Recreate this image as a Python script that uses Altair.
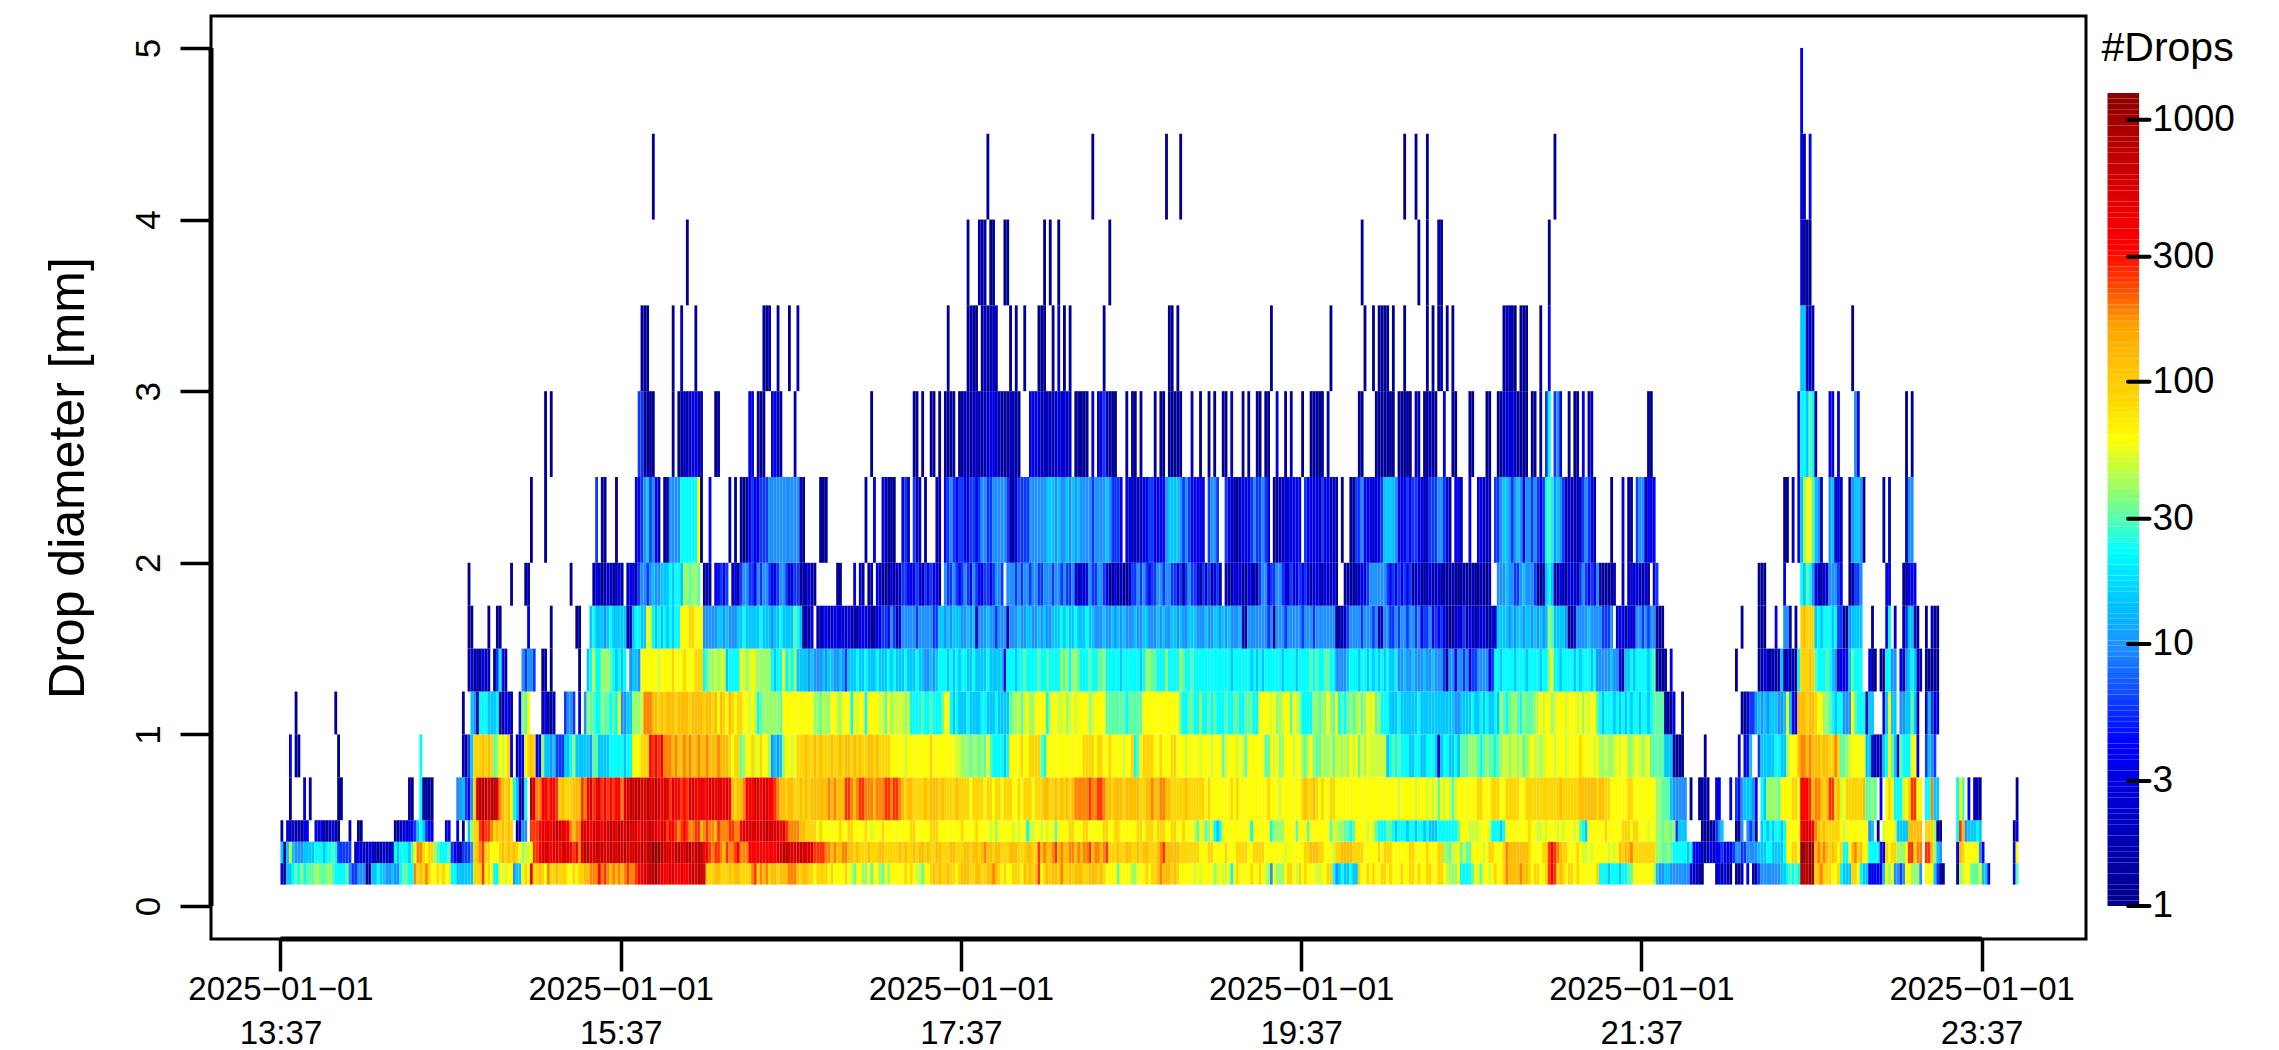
import altair as alt
import pandas as pd
import math

alt.data_transformers.disable_max_rows()

# one letter = one estimated drop count; one character = one minute after 13:37
LEVEL_COUNTS = dict(a=1.2, b=2, c=3.5, d=6, e=10, f=15, g=23, h=32, i=40, j=50, k=62,
                    l=90, m=125, n=190, o=260, p=350, q=550, r=800, s=1150)

D_450_500 = [(536, "c")]
D_400_450 = [(131, "a"), (249, "a"), (286, "a"), (312, "a"), (317, "a"), (396, "a"), (400, "a"),
             (404, "a"), (449, "a"), (536, "cb"), (539, "c")]
D_350_400 = [(143, "a"), (242, "a"), (246, "bab"), (250, "aa"), (255, "aa"), (269, "a"), (271, "a"),
             (274, "a"), (292, "a"), (381, "a"), (401, "a"), (404, "a"), (408, "ba"), (447, "a"),
             (536, "caaa")]
D_300_350 = [(127, "aaa"), (138, "a"), (141, "b"), (146, "a"), (170, "aab"), (175, "a"), (179, "a"),
             (182, "b"), (235, "a"), (242, "abaa"), (247, "abbabb"), (257, "a"), (259, "a"), (262, "a"),
             (267, "aaa"), (272, "a"), (274, "c"), (276, "a"), (278, "a"), (290, "a"), (313, "aa"),
             (316, "a"), (349, "a"), (370, "a"), (382, "a"), (385, "a"), (387, "aaaa"), (392, "a"),
             (396, "a"), (404, "a"), (406, "a"), (408, "ab"), (411, "a"), (413, "a"), (431, "abbaa"),
             (437, "aaa"), (444, "a"), (447, "c"), (536, "ffbbb"), (554, "a")]
D_250_300 = [(93, "a"), (95, "a"), (126, "ddaaaa"), (138, "a"), (140, "aabbbccbb"), (153, "aa"),
             (165, "cc"), (168, "aaa"), (173, "ccba"), (181, "b"), (208, "a"), (223, "aa"), (226, "a"),
             (229, "aa"), (232, "a"), (234, "aaaa"), (239, "aabbabbbabbccbbaaabbaa"),
             (264, "cccbbbbbbbcbcbb"), (280, "aaaaa"), (286, "c"), (288, "bcdbaaa"), (298, "a"),
             (300, "aa"), (303, "a"), (308, "a"), (310, "aa"), (313, "aaaaa"), (321, "b"), (324, "a"),
             (327, "a"), (329, "a"), (332, "aa"), (335, "b"), (339, "a"), (341, "a"), (344, "aa"),
             (347, "aa"), (351, "c"), (354, "a"), (356, "b"), (360, "a"), (363, "aaaaa"), (369, "b"),
             (380, "aa"), (386, "aaaaaaa"), (394, "aaaaa"), (400, "bb"), (403, "aabaa"), (410, "c"),
             (413, "aa"), (419, "aa"), (425, "aa"), (429, "aabcbcbaaaa"), (441, "aa"), (444, "a"),
             (446, "dg"), (449, "dec"), (454, "a"), (456, "aa"), (459, "c"), (461, "bb"), (482, "aa"),
             (535, "cggfhga"), (546, "cc"), (549, "c"), (555, "ec"), (573, "a"), (575, "a")]
D_200_250 = [(88, "a"), (93, "a"), (111, "d"), (113, "aa"), (118, "a"),
             (125, "ccdefdecb"), (135, "aaeeeeggggggka"), (151, "c"), (158, "a"), (160, "a"),
             (162, "aaacdccdddeeeeeeeeeee"), (183, "ba"), (190, "aaa"), (206, "a"),
             (209, "c"), (212, "cbaaa"), (219, "cdb"), (223, "dbb"), (227, "a"), (231, "bb"),
             (234, "cdedcddccddcdeeddeeeeeda"), (257, "bacdd"),
             (262, "ddeeeeeefffefeefefefeeeedeeeefedddc"), (298, "ccbbbbcc"), (306, "ddcccc"),
             (312, "effffede"), (320, "dccccc"), (327, "deed"),
             (333, "dcbbabcccdedd"), (346, "edc"), (350, "aabbbccccc"), (361, "dccccbdccbbb"),
             (374, "a"), (377, "aadde"), (382, "cccbccdffffeccc"), (397, "dcdd"), (401, "cc"),
             (403, "bbddd"), (408, "eedca"), (414, "ccb"), (419, "c"), (422, "ccbbb"),
             (428, "ddeffedefecee"), (441, "ded"), (444, "cd"), (446, "ghgef"), (451, "edbbb"),
             (456, "bbbdedcb"), (469, "a"), (473, "c"), (475, "aa"), (478, "deebccc"), (530, "aa"),
             (533, "b"), (535, "cfikkhfeb"), (546, "efbcb"), (553, "aeffea"), (565, "a"), (567, "b"),
             (573, "bee")]
D_175_200 = [(66, "a"), (81, "a"), (86, "ab"), (102, "a"), (110, "acbaacbabca"), (122, "bcca"),
             (126, "deedefeeff"), (136, "fgfggf"), (142, "iihiih"), (149, "aba"), (153, "ccdcd"),
             (159, "bca"), (162, "deeddcedeedccdeedbcdd"), (183, "abacaa"), (196, "aa"), (202, "c"),
             (204, "ca"), (207, "ab"), (210, "cbaaacabb"), (219, "ddcccdcadcdcca"),
             (234, "eddedcdedcedccddcdeed"), (256, "eeededeedeeddeeedeededde"), (280, "cacbc"),
             (285, "eddeedc"), (292, "aacabaab"), (300, "ddededcddeedeeddcd"), (318, "a"),
             (319, "deddcadbdacdb"), (333, "baacbcaacbba"), (345, "deecddeedc"), (355, "bdccd"),
             (360, "cdcacbcacbbca"), (375, "abaabb"), (381, "ccd"), (384, "eeeeeed"),
             (391, "cdcdcdcd"), (399, "abcabacbacab"), (411, "aabaaaba"), (419, "abaabaab"),
             (429, "eeefeeddefeeed"), (443, "aab"), (446, "fgf"), (449, "bacbacbca"), (458, "dedcdce"),
             (465, "aaaaab"), (473, "b"), (475, "bcbcbaca"), (484, "cd"), (521, "aaa"), (530, "c"),
             (536, "gfhge"), (541, "cbacbe"), (547, "eed"), (550, "c"), (553, "aa"), (555, "dde"),
             (566, "cc"), (572, "aaccc")]
D_150_175 = [(66, "aa"), (73, "a"), (76, "aa"), (87, "c"), (95, "a"), (104, "aa"), (109, "fgfffefg"),
             (117, "fffff"), (122, "ab"), (124, "fggff"), (129, "kjg"), (132, "fgfgfgfgg"),
             (141, "kkkllkkk"), (149, "eeeeeffefeeef"), (162, "fgfffffgfffeffgffff"), (181, "hgf"),
             (184, "abac"), (189, "baccbbccbcbca"), (202, "bacccbaa"), (210, "ccddcedac"),
             (219, "eeeeedeeeeedd"), (232, "ffefefffeefef"), (245, "b"), (246, "eeefeedeee"), (256, "a"),
             (257, "eeefeeffeefefeefff"), (275, "gfgffgfffgffe"), (288, "eefeefefefeeefeeffeeefefee"),
             (314, "ffefeefffeeefeeffefefeeef"), (339, "ba"), (341, "eeeeeeede"), (350, "a"),
             (351, "eeedeeeee"), (360, "deeedeeeeeee"), (372, "aabb"), (376, "deeeedeeede"), (387, "ab"),
             (389, "eeddedeedeede"), (402, "cddecdcdc"), (411, "aaab"), (415, "cbdacbacbcaacb"),
             (429, "ffffefeffeffefefef"), (447, "ih"), (449, "ffffe"), (454, "aac"),
             (457, "eeeefeeeeddde"), (471, "bccacbc"), (478, "eededee"), (485, "aaa"), (515, "a"),
             (521, "aaa"), (527, "c"), (530, "ee"), (532, "a"), (534, "a"), (536, "lmlll"),
             (541, "fgfgg"), (546, "gfgd"), (550, "daaefff"), (557, "f"), (561, "a"), (566, "cg"),
             (569, "b"), (572, "adffba"), (580, "a"), (582, "baa")]
D_125_150 = [(66, "acabacbb"), (75, "adgca"), (85, "edeed"), (92, "ab"), (95, "a"), (105, "a"),
             (108, "fgjgg"), (113, "iiih"), (117, "gfgfg"), (123, "effe"),
             (127, "kkkkkkjkkkklkkklkkklll"), (149, "gh"), (151, "iijijj"), (157, "fgggg"),
             (162, "kjijkj"), (168, "iiiii"), (173, "gfggkg"), (179, "hgi"), (182, "ffffef"),
             (188, "eeefeffeefe"), (199, "d"), (200, "fffgffgfffgfffgfgfffgfffgffeefef"),
             (232, "gggfgfgfggffgffffgfffff"), (255, "c"), (256, "gggfgghggggh"),
             (268, "gghggggihigiihggghgghhi"), (291, "gggggfggggggfg"), (305, "iihhgggiggggihgghgggg"),
             (326, "gggggggggfggggggfgfgfggggggfggggfg"), (360, "ggghghgghhgg"), (372, "eeeef"),
             (377, "gggfggfgfgfgfgffg"), (394, "eefeefeeefeefeee"), (410, "dae"), (413, "eceedecdd"),
             (422, "eeeecd"), (428, "ggfggggfgggfggggfgg"), (447, "ik"), (449, "ggfggggfgfgggfg"),
             (464, "eeeeefeec"), (473, "a"), (474, "ffgfggggfgh"), (485, "aaaa"), (490, "c"), (513, "a"),
             (521, "aacbabab"), (529, "f"), (530, "acaba"), (535, "g"), (536, "lllml"), (541, "hgg"),
             (544, "ghgfeb"), (550, "cccfhggg"), (560, "caa"), (564, "aaggee"), (571, "cbefgfbb"),
             (580, "aaaaa")]
D_100_125 = [(5, "a"), (19, "a"), (64, "a"), (67, "fe"), (69, "a"), (70, "gggff"), (75, "f"), (76, "g"),
             (77, "aacca"), (84, "cihk"), (92, "bcaab"), (100, "deed"), (105, "c"), (107, "e"),
             (108, "ihhggihhghgh"), (119, "k"), (120, "eeff"), (124, "iiijn"),
             (129, "nnmmlmlmmmlmmmmlmmmmlmmlmkmlkmlkl"), (162, "lkkjkj"), (168, "gh"), (170, "iiiiiih"),
             (177, "kkkkkkkkkkk"), (188, "iih"), (191, "jiikkjikk"), (200, "kgkjkkgk"),
             (208, "kkkjjhkijjjjij"), (222, "gggghgghgggh"), (234, "kk"), (236, "gfgfffgffffggfffgffff"),
             (257, "hiijhjkiik"), (267, "kkkg"), (271, "jkkjjkijkjkkkkijkkkk"), (291, "hhhhhhhghhhhh"),
             (304, "kkkkkkkkkkkkk"), (317, "hgghhggigghgh"), (330, "ggghgghhgghhhgg"),
             (345, "kkkkjkiijkkhkji"), (360, "gggg"), (364, "iihii"), (369, "kihk"), (373, "ghgh"),
             (377, "ihijhikjkhi"), (388, "gggf"), (392, "ffgffffffgffff"), (406, "ffffffffeefff"),
             (419, "fgffgfgffgf"), (430, "ihghiihgih"), (440, "hhi"), (443, "jkjkkijkkkjkkkjki"),
             (460, "kjkkh"), (465, "gfgggfgfgfgfggfggfghh"), (486, "hh"), (488, "aaa"), (491, "c"),
             (494, "a"), (515, "aab"), (518, "dde"), (521, "fefefffeef"), (531, "k"), (532, "f"),
             (533, "cc"), (535, "mmmlmm"), (541, "lkk"), (544, "iih"), (547, "gfg"),
             (550, "geeekhgggbff"), (565, "cfkff"), (571, "eeffhfb"), (580, "cfdbc")]
D_075_100 = [(3, "c"), (5, "aa"), (20, "a"), (49, "g"), (64, "ba"), (66, "d"), (67, "f"), (68, "lllmlml"),
             (75, "hi"), (77, "kjkl"), (81, "c"), (83, "ac"), (85, "c"), (86, "k"), (87, "lml"),
             (90, "cc"), (92, "i"), (93, "ffef"), (97, "ddd"), (100, "ffg"), (103, "i"),
             (104, "fffffe"), (110, "hh"), (112, "ffff"), (116, "gggggfgg"), (124, "kkk"), (127, "lll"),
             (130, "popop"), (135, "nnnmnmmnm"), (144, "nmmnmmnmmmnmmmlkll"), (162, "hikkljklkki"),
             (173, "efe"), (176, "fi"), (178, "kkjk"), (182, "lllmllmlmlllmllmlmmlmlmllmmlmllll"),
             (215, "kkkkkjkkkkkkkklkkkkkkkk"), (238, "jji"), (241, "iihiihih"), (249, "k"),
             (250, "hggggfg"), (257, "kkkklkkllll"), (268, "hg"), (270, "kkkkkkkkkkkkkl"),
             (284, "lllkllkklkkkkjkkl"), (301, "gh"), (303, "kllllkklkkkllkkkjk"),
             (321, "kkkjkkkjkkkhjkkkjkjhkkk"), (344, "kkkhhkjkiikkkjkk"),
             (360, "ihjkihhjiijhjjijikjkhkik"), (384, "jjjjjj"), (390, "fg"), (392, "hghgg"),
             (397, "gffggffgg"), (406, "gf"), (408, "b"), (409, "fggffgf"), (416, "hhhii"),
             (421, "ihghihhgh"), (430, "ijjijjij"), (438, "hijkjjijkk"), (448, "kjkkkj"),
             (454, "kkkklkkkkjk"), (465, "iijiijk"), (472, "jkkiijkjijk"), (483, "hhhhh"), (488, "fff"),
             (491, "aaaa"), (502, "a"), (514, "c"), (516, "cc"), (518, "f"), (521, "df"),
             (523, "ffffggff"), (531, "ikkk"), (535, "mnnmnm"), (541, "mmlmmll"), (548, "nl"),
             (550, "hhijkkkkkffbbbb"), (565, "fgkhf"), (570, "bhgggkkc"), (580, "dfed")]
D_050_075 = [(3, "a"), (8, "c"), (10, "a"), (20, "aa"), (45, "aa"), (49, "g"), (50, "aaaa"), (62, "ee"),
             (64, "fd"), (66, "ce"), (68, "l"), (69, "qrrrqrrq"), (77, "nml"), (80, "mk"), (82, "gf"),
             (84, "ba"), (86, "g"), (88, "rq"), (90, "nn"), (92, "ppoppo"), (98, "lmlllmmm"), (106, "on"),
             (108, "pqopqopopoppn"), (121, "qqrqrrqqr"), (130, "qqrqpqqoqppopoqqppqppqqpqqpqp"),
             (159, "mlm"), (162, "mn"), (164, "pppqqpqqpp"), (174, "onm"), (177, "mlmmllmlmlm"),
             (188, "mmmmmnmnmmm"), (199, "oo"), (201, "nmn"), (204, "oo"), (206, "nnnmnnn"),
             (213, "oonoo"), (218, "nmlmmllllmlmmmlmllllml"), (240, "lllkllllkllkllklllkklk"),
             (262, "lllklllmmllmlmlmlm"), (280, "nnn"), (283, "nnonnoon"), (291, "mmlmmmlmmmmmll"),
             (305, "mmnmmnn"), (312, "mmlllllmllllll"), (326, "klkkkkkkklklkkkkkkkkkklkkkjkkkkkkk"),
             (360, "lmllmlklkkll"), (372, "kkkkkkkkkkkkkkkkkkkkkkjkkkkkjkkkjk"), (406, "jkhkjkjhjkkk"),
             (418, "kkkkllkkklllkk"), (432, "lllllkkllllllllllllmllllll"), (458, "mmmmmmlmm"),
             (467, "llkkkkkkllkkkkkkkk"), (485, "iihhh"), (490, "feeeee"), (497, "a"), (500, "aaba"),
             (506, "cc"), (511, "c"), (513, "dce"), (516, "fffe"), (520, "c"), (522, "gf"),
             (524, "iiiih"), (529, "kkkkllk"), (536, "pppo"), (540, "mnnmlm"), (546, "oo"), (548, "lm"),
             (550, "jkllllllmh"), (560, "hih"), (564, "c"), (566, "klkggg"), (572, "jklookk"),
             (580, "ggnff"), (591, "gkh"), (595, "c"), (597, "bba"), (612, "a")]
D_0375_050 = [(0, "a"), (2, "cacabac"), (9, "c"), (12, "cbca"), (16, "abcaa"), (24, "a"), (27, "aa"),
              (40, "aabcbccd"), (48, "fgf"), (51, "dcc"), (58, "cc"), (62, "c"), (64, "a"), (66, "fi"),
              (68, "ll"), (70, "opoon"), (75, "lmlmlml"), (83, "ab"), (85, "ee"), (88, "o"),
              (89, "oopqpqp"), (96, "qrqq"), (100, "ppnm"), (104, "nn"),
              (106, "qqqpqqqpqqrqqrqqrqqqpqqqr"), (131, "qqpqqopponop"),
              (143, "onnoomnonnmonnnoonn"), (162, "pqqqqqqqqrqqqqpqo"), (179, "nnn"), (182, "nmml"),
              (186, "lllklkkkk"), (195, "kklkkllkkkklkjkkklkk"), (215, "kkkkkkkllkkkkklllkkk"),
              (235, "kkkkklkkkklkkkkjkikk"), (255, "kkkjkjkkgjjkkjkjkkhk"),
              (275, "kkkllkkkllkkkkkllkkl"), (295, "lkkkkkkllklllklllkkllkklkk"), (321, "kjhkjhikg"),
              (330, "fgk"), (333, "kkkkkkkkk"), (342, "g"), (343, "kkkkkk"), (349, "g"), (350, "iiii"),
              (354, "kkkk"), (358, "hk"), (360, "kkhkkkkkkkhjj"), (373, "iihhgh"), (379, "kkkkjkjh"),
              (387, "ggg"), (390, "hhgfg"), (395, "ggfggfggfg"), (405, "fff"), (408, "ggggggg"),
              (415, "hkkk"), (419, "jjjj"), (423, "kkkj"), (427, "gggfg"), (432, "kkkkkkkklkk"),
              (443, "jjkjkk"), (449, "kjkjkkkjkh"), (459, "gf"), (461, "kkkkkklkkkkklllkllkkkjkk"),
              (485, "iihiihi"), (492, "d"), (493, "fff"), (501, "aaaaa"), (506, "def"), (513, "aa"),
              (515, "e"), (517, "ede"), (520, "a"), (522, "fgfgfggfg"), (531, "kkkkk"), (536, "pqqqp"),
              (541, "nmlmll"), (547, "lll"), (550, "kjkkkkkkkk"), (560, "ef"), (563, "a"),
              (565, "jkkkj"), (570, "ffff"), (574, "mmmmm"), (580, "lllia"), (585, "a"),
              (591, "gomefffgf"), (611, "ac")]
D_025_0375 = [(0, "fafjfeeeff"), (10, "ffgggfgghg"), (20, "ddddd"), (26, "bcbca"), (31, "cbbaacbbb"),
              (40, "gfgggfhk"), (48, "nnlkll"), (54, "ihgggh"), (60, "dccaddd"), (67, "ee"),
              (68, "lmnollkkklmlmlmlkijjkp"), (89, "oopqqqpqqpq"), (100, "qqpopn"),
              (106, "qrrqqrqrqqrqqrq"), (121, "rqqqrqrqrr"), (131, "sss"), (134, "rqqqqrrqq"),
              (143, "rrqrrr"), (149, "pponoonmonnop"), (162, "nnnpppppppppp"), (175, "qqrrqqqqrqqqq"),
              (188, "oooonnmnmmnn"), (200, "mmlmlllmlllmmlllllml"), (220, "mllmlmmlmllmmlllmmll"),
              (240, "lmmlmmlmnmmlmmlllmmm"), (260, "lllmmll"), (267, "o"), (268, "mnmmnomnmmnn"),
              (280, "mnmnnomnnmno"), (292, "lllmllmmllmlmmlllmno"), (312, "mmmmmllll"),
              (321, "lllkkkllkkkklkkkllll"), (341, "kkllllkkkkkkkjkkkkk"),
              (360, "kllmmmllkkkjllmmmmllllkkkkklklllkkkkkkllkkkklkkkll"), (410, "iihjjkhjhh"),
              (420, "kkkkjkllkkkl"), (432, "nmmmmmmml"), (441, "kkkkll"), (447, "opo"),
              (450, "nmllkkkl"), (458, "kjjkjkk"), (465, "kkkjkjk"), (472, "mlmmn"), (477, "llllllll"),
              (485, "iihhih"), (491, "gggggfg"), (498, "cccb"), (502, "abcb"), (506, "ccdcccd"),
              (513, "eeddeeee"), (521, "fffggffffg"), (531, "kkllk"), (536, "ssrss"),
              (541, "mnmnmlmlk"), (550, "lggkmnlmkk"), (560, "gggg"), (564, "cc"), (566, "lkll"),
              (570, "iiikoolnn"), (580, "oomife"), (591, "cmlkkkkkec"), (611, "ck")]
D_0125_025 = [(0, "caffghgigh"), (10, "hhiihhiihg"), (20, "gggheddeee"), (30, "aaffgffeef"),
              (40, "eeghhgg"), (47, "nlm"), (50, "lnlkklklkk"), (60, "ggffffffll"),
              (70, "loklkggkkj"), (80, "kkeffklkql"), (90, "lmlknllmll"), (100, "lkklkllmmn"),
              (110, "nnpnonmnmn"), (120, "mnonnoppqq"), (130, "rrsqqppqqp"), (140, "pqppqrqrrq"),
              (150, "lllmmlllmlmm"), (162, "llllnolnmnlmmlmmmn"), (180, "nnmlmmllkllllklkkkkl"),
              (200, "kjhkkiikhkkihkikkkkk"), (220, "lklkjjhkklmlmllmllkl"),
              (240, "mmmllmmllmmnmlklkkll"), (260, "lkmlmlmoklmlmmlnllml"),
              (280, "mmmllmmmlmlkkkkhkkkk"), (300, "iikkklkllmnmmmlmlkkk"),
              (320, "kkjkjkkkkijkjjkgklkk"), (340, "kklkklkjiekiiikllkjl"),
              (360, "klkkkjjkkllgefgffgff"), (380, "lkklklkkllklkkklkkllklkkll"),
              (406, "kkllkjiiikgggg"), (420, "hkjhkkjklkkl"), (432, "nmmmmnmmlkllkkl"), (447, "opo"),
              (450, "lmlkllklkkkkkkl"), (465, "gggfgggfgghh"), (477, "kkkkkkkj"),
              (485, "feeffeeeeeee"), (497, "cbbaa"), (506, "bcacaa"), (513, "aab"), (517, "c"),
              (519, "ba"), (521, "deeeeeeeff"), (531, "ghghg"), (536, "rrrss"), (541, "lmnlllkkl"),
              (550, "gfffllkgffcccc"), (564, "cfkikeede"), (573, "kkiiie"), (580, "kkkfdaa"),
              (591, "a"), (592, "ijkkhhhkffc"), (611, "ch")]

ROWS = [(0.125, 0.25, D_0125_025), (0.25, 0.375, D_025_0375), (0.375, 0.5, D_0375_050),
        (0.5, 0.75, D_050_075), (0.75, 1.0, D_075_100), (1.0, 1.25, D_100_125), (1.25, 1.5, D_125_150),
        (1.5, 1.75, D_150_175), (1.75, 2.0, D_175_200), (2.0, 2.5, D_200_250), (2.5, 3.0, D_250_300),
        (3.0, 3.5, D_300_350), (3.5, 4.0, D_350_400), (4.0, 4.5, D_400_450), (4.5, 5.0, D_450_500)]

START = pd.Timestamp("2025-01-01 13:37:00")
records = []
for lo, hi, segments in ROWS:
    cells = {}
    for first, letters in segments:
        for offset, letter in enumerate(letters):
            cells[first + offset] = letter
    for minute, letter in cells.items():
        records.append(dict(
            t0=(START + pd.Timedelta(minutes=minute)).isoformat(),
            t1=(START + pd.Timedelta(minutes=minute + 1)).isoformat(),
            lo=lo, hi=hi, drops=LEVEL_COUNTS[letter]))
cells_df = pd.DataFrame(records)

X_TICKS = ["2025-01-01T13:37:00", "2025-01-01T15:37:00", "2025-01-01T17:37:00",
           "2025-01-01T19:37:00", "2025-01-01T21:37:00", "2025-01-01T23:37:00"]
X_DOMAIN = ["2025-01-01T13:12:30", "2025-01-02T00:13:48"]
Y_TICKS = [0, 1, 2, 3, 4, 5]
Y_DOMAIN = [-0.192, 5.186]
BAR_TICKS = [1, 3, 10, 30, 100, 300, 1000]
BAR_TOP = 1265

COLOR_DOMAIN = [1, 1.82, 4.37, 10, 14.06, 23.2, 36.3, 61.7, 87.7, 167.5, 238.8, 331, 430.5, 776, 1265]
COLOR_RANGE = ["#00008B", "#0000B4", "#0000FF", "#1E90FF", "#00BFFF", "#00FFFF", "#7FFF7F", "#FFFF00",
               "#FFD700", "#FFA500", "#FF4500", "#FF0000", "#EE0000", "#BE0000", "#8B0000"]
color_scale = alt.Scale(type="log", domain=COLOR_DOMAIN, range=COLOR_RANGE, interpolate="rgb")

FONT = "Liberation Sans"
x_scale = alt.Scale(domain=X_DOMAIN)
y_scale = alt.Scale(domain=Y_DOMAIN, nice=False, zero=False)

x_axis = alt.Axis(
    title=None, values=X_TICKS, domain=False, grid=False, tickSize=32, tickWidth=3.5, tickColor="black",
    labelFontSize=33, labelFont=FONT, labelColor="black", labelPadding=2, labelLineHeight=44,
    labelOverlap=False, labelFlush=False, labelBaseline="top", labelLimit=400,
    labelExpr="[timeFormat(datum.value,'%Y\u2212%m\u2212%d'), timeFormat(datum.value,'%H:%M')]")
y_axis = alt.Axis(
    title="Drop diameter [mm]", values=Y_TICKS, domain=False, grid=False, tickSize=31, tickWidth=3.5,
    tickColor="black", labelFontSize=35, labelFont=FONT, labelColor="black", labelAngle=-90,
    labelAlign="center", labelBaseline="bottom", labelPadding=14, titleFontSize=50, titleFont=FONT,
    titleFontWeight="normal", titleColor="black", titlePadding=38, format="d")

rects = alt.Chart(cells_df).mark_rect(strokeWidth=0).encode(
    x=alt.X("t0:T", scale=x_scale, axis=x_axis),
    x2="t1:T",
    y=alt.Y("lo:Q", scale=y_scale, axis=y_axis),
    y2="hi:Q",
    color=alt.Color("drops:Q", scale=color_scale, legend=None),
)

x_line = alt.Chart(pd.DataFrame(dict(a=[X_TICKS[0]], b=[X_TICKS[-1]], c=[Y_DOMAIN[0]]))).mark_rule(
    color="black", strokeWidth=5).encode(
    x=alt.X("a:T", scale=x_scale, axis=x_axis), x2="b:T", y=alt.Y("c:Q", scale=y_scale, axis=y_axis))
y_line = alt.Chart(pd.DataFrame(dict(a=[X_DOMAIN[0]], b=[Y_TICKS[0]], c=[Y_TICKS[-1]]))).mark_rule(
    color="black", strokeWidth=5).encode(
    x=alt.X("a:T", scale=x_scale, axis=x_axis), y=alt.Y("b:Q", scale=y_scale, axis=y_axis), y2="c:Q")

main = alt.layer(rects, x_line, y_line).properties(
    width=1875, height=923, view=alt.ViewConfig(stroke="black", strokeWidth=3))

# colour bar: its vertical axis is log10(#Drops)
BAR_STEPS = 150
bar_logs = [math.log10(BAR_TOP) * i / BAR_STEPS for i in range(BAR_STEPS + 1)]
bar_df = pd.DataFrame(dict(lo=bar_logs[:-1], hi=bar_logs[1:], drops=[10 ** v for v in bar_logs[1:]]))
log_scale = alt.Scale(domain=[-0.126, 3.396], nice=False, zero=False)
x01 = alt.Scale(domain=[0, 1], nice=False, zero=False)

bar_axis = alt.Axis(
    title=None, orient="right", values=[math.log10(v) for v in BAR_TICKS], domain=False, grid=False,
    ticks=False, labelFontSize=37, labelFont=FONT, labelColor="black", labelPadding=13,
    labelExpr="format(pow(10,datum.value),'.0f')", labelOverlap=False, labelFlush=False)

bar = alt.Chart(bar_df).mark_rect(strokeWidth=0).encode(
    x=alt.value(0), x2=alt.value(31.6),
    y=alt.Y("lo:Q", scale=log_scale, axis=bar_axis),
    y2="hi:Q",
    color=alt.Color("drops:Q", scale=color_scale, legend=None),
)
bar_ticks = alt.Chart(pd.DataFrame(dict(v=[math.log10(v) for v in BAR_TICKS], a=[0.65] * 7, b=[1.33] * 7))).mark_rule(
    color="black", strokeWidth=4, strokeCap="round").encode(
    x=alt.X("a:Q", scale=x01, axis=None), x2="b:Q", y=alt.Y("v:Q", scale=log_scale, axis=bar_axis))
bar_title = alt.Chart(pd.DataFrame(dict(label=["#Drops"], a=[-0.19], v=[3.27]))).mark_text(
    fontSize=41, font=FONT, align="left", baseline="middle", color="black").encode(
    x=alt.X("a:Q", scale=x01, axis=None), y=alt.Y("v:Q", scale=log_scale, axis=bar_axis), text="label:N")

colorbar = alt.layer(bar, bar_ticks, bar_title).properties(
    width=31.6, height=923, view=alt.ViewConfig(stroke="transparent"))

chart = alt.hconcat(main, colorbar, spacing=12.5).resolve_scale(color="independent").properties(
    background="white", padding={"left": 33, "top": 6, "right": 0, "bottom": 0})

chart.save("out.html", embed_options={"renderer": "svg", "actions": False})
